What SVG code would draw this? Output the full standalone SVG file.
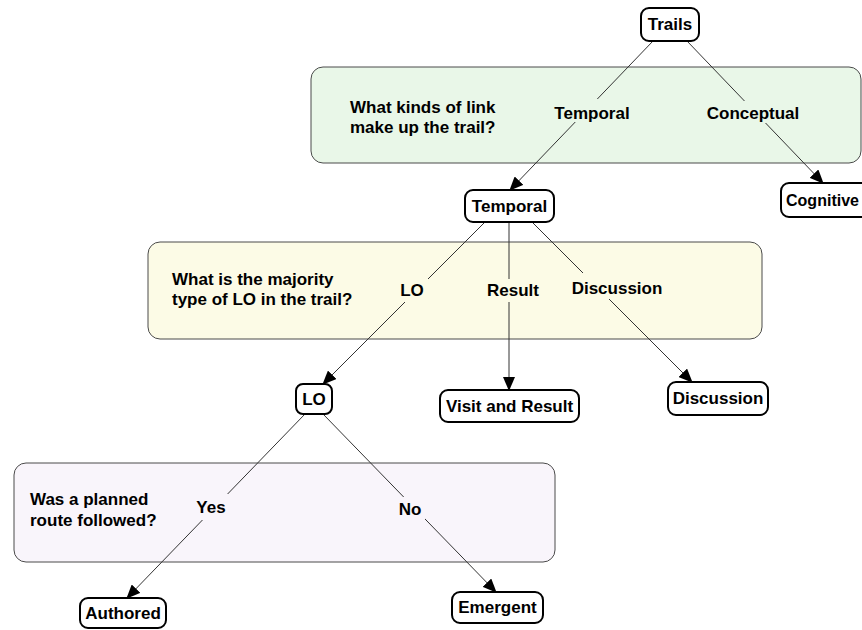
<svg xmlns="http://www.w3.org/2000/svg" width="862" height="630" viewBox="0 0 862 630">
<style>
text { font-family: "Liberation Sans", Arial, sans-serif; font-weight: bold; font-size: 17px; fill: #000; }
.c { text-anchor: middle; }
.region { stroke: #4a4a4a; stroke-width: 1; }
.green { fill: #e9f7e8; }
.yellow { fill: #fcfbe6; }
.purple { fill: #f9f5fb; }
.node rect { fill: #fff; stroke: #000; stroke-width: 2; }
.edge { stroke: #333; stroke-width: 1; fill: none; marker-end: url(#arrow); }
</style>
<defs>
<marker id="arrow" markerUnits="userSpaceOnUse" markerWidth="14" markerHeight="12" refX="13" refY="6" orient="auto">
<path d="M0,0 L14,6 L0,12 Z" fill="#000"/>
</marker>
</defs>

<g id="region-link">
<rect class="region green" x="311" y="67" width="550" height="96" rx="12"/>
<text x="350" y="113">What kinds of link</text>
<text x="350" y="133">make up the trail?</text>
</g>
<g id="region-type">
<rect class="region yellow" x="148" y="242" width="614" height="97" rx="12"/>
<text x="172" y="285">What is the majority</text>
<text x="172" y="305">type of LO in the trail?</text>
</g>
<g id="region-route">
<rect class="region purple" x="14" y="463" width="541" height="99" rx="12"/>
<text x="30" y="505">Was a planned</text>
<text x="30" y="526">route followed?</text>
</g>

<g id="connectors">
<line class="edge" x1="653" y1="41" x2="510" y2="190"/>
<line class="edge" x1="687" y1="41" x2="823" y2="183"/>
<line class="edge" x1="485" y1="222" x2="323" y2="384"/>
<line class="edge" x1="509" y1="222" x2="509" y2="390"/>
<line class="edge" x1="532" y1="222" x2="692" y2="382"/>
<line class="edge" x1="305" y1="414" x2="127" y2="598"/>
<line class="edge" x1="323" y1="414" x2="496" y2="592"/>
<rect class="green" x="551" y="99" width="82" height="23"/>
<text class="c" x="592" y="119">Temporal</text>
<rect class="green" x="706" y="101" width="95" height="22"/>
<text class="c" x="753" y="119">Conceptual</text>
<rect class="yellow" x="398" y="278" width="30" height="24"/>
<text class="c" x="412" y="296">LO</text>
<rect class="yellow" x="486" y="279" width="55" height="23"/>
<text class="c" x="513" y="296">Result</text>
<rect class="yellow" x="572" y="273" width="90" height="26"/>
<text class="c" x="617" y="294">Discussion</text>
<rect class="purple" x="195" y="494" width="33" height="26"/>
<text class="c" x="211" y="513">Yes</text>
<rect class="purple" x="397" y="497" width="28" height="23"/>
<text class="c" x="410" y="515">No</text>
</g>

<g id="node-trails" class="node">
<rect x="641" y="8" width="58" height="33" rx="8"/>
<text class="c" x="670" y="30">Trails</text>
</g>
<g id="node-temporal" class="node">
<rect x="465" y="190" width="89" height="32" rx="8"/>
<text class="c" x="509.5" y="212">Temporal</text>
</g>
<g id="node-cognitive" class="node">
<rect x="781" y="183" width="90" height="34" rx="8"/>
<text x="786" y="206" textLength="73" lengthAdjust="spacingAndGlyphs">Cognitive</text>
</g>
<g id="node-lo" class="node">
<rect x="296" y="384" width="36" height="30" rx="7"/>
<text class="c" x="314" y="405">LO</text>
</g>
<g id="node-visit" class="node">
<rect x="440" y="390" width="139" height="32" rx="8"/>
<text class="c" x="509.5" y="412">Visit and Result</text>
</g>
<g id="node-discussion" class="node">
<rect x="668" y="382" width="100" height="33" rx="8"/>
<text class="c" x="718" y="404">Discussion</text>
</g>
<g id="node-authored" class="node">
<rect x="80" y="598" width="86" height="30" rx="8"/>
<text class="c" x="123" y="619">Authored</text>
</g>
<g id="node-emergent" class="node">
<rect x="452" y="592" width="91" height="31" rx="8"/>
<text class="c" x="497.5" y="613">Emergent</text>
</g>
</svg>
